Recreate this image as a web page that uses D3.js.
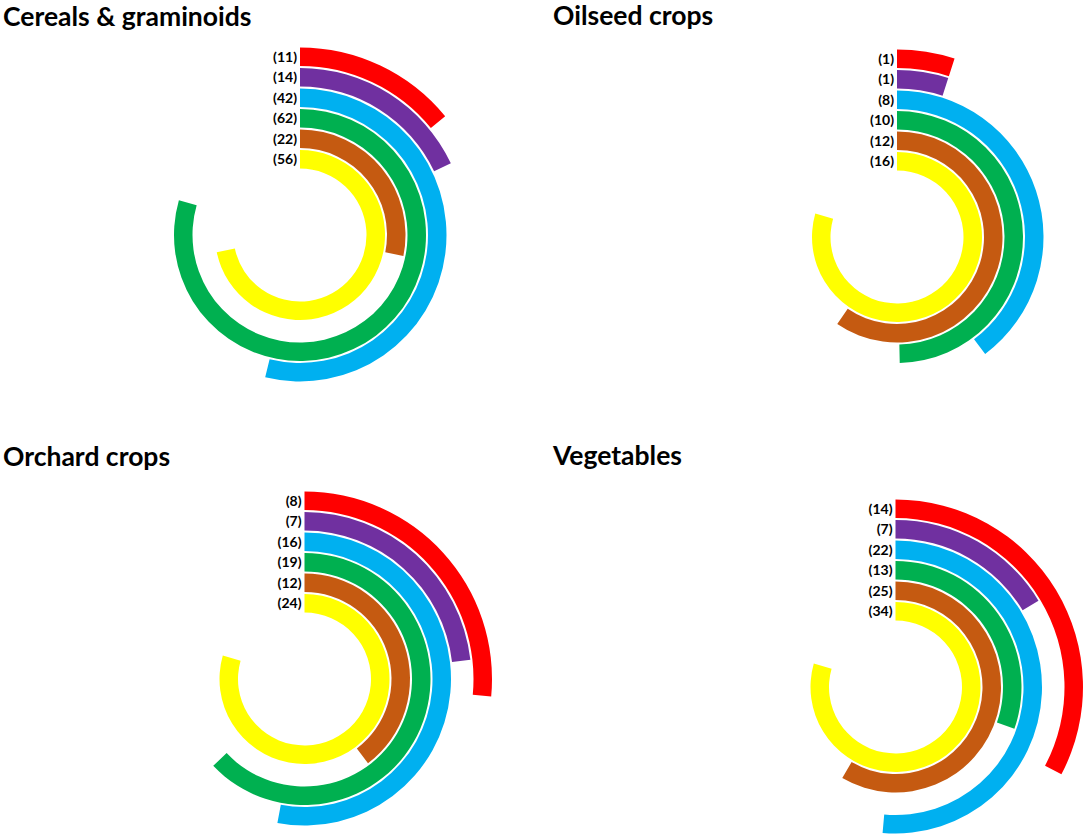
<!DOCTYPE html>
<html>
<head>
<meta charset="utf-8">
<script src="https://cdn.jsdelivr.net/npm/d3@7"></script>
<style>
  body { margin: 0; background: #fff; }
  .title { font-family: Lato, "Open Sans", sans-serif; font-weight: bold; font-size: 26.5px; fill: #000; }
  .count { font-family: Lato, "Open Sans", sans-serif; font-weight: bold; font-size: 14px; fill: #000; }
</style>
</head>
<body>
<script>
// Panel titles
var groups = ["Cereals & graminoids", "Oilseed crops", "Orchard crops", "Vegetables"];

// Ring colours, outer ring first
var ringColors = ["#FF0000", "#7030A0", "#00B0F0", "#00B050", "#C55A11", "#FFFF00"];

// Counts per ring (outer ring first), one array per panel
var cerealsCounts = [11, 14, 42, 62, 22, 56];
var oilseedCounts = [1, 1, 8, 10, 12, 16];
var orchardCounts = [8, 7, 16, 19, 12, 24];
var vegetableCounts = [14, 7, 22, 13, 25, 34];

var panelCounts = [cerealsCounts, oilseedCounts, orchardCounts, vegetableCounts];

// Layout
var width = 1084, height = 835;
var titlePos = [[3, 26], [553, 25], [3, 466], [553, 465]];
var centers = [[300, 235], [897, 237], [304.5, 679], [895.5, 687]];
var outerR = 187.5, step = 20.5, band = 18.5;
var maxAngle = 286 * Math.PI / 180;

var svg = d3.select("body").append("svg")
    .attr("width", width)
    .attr("height", height);

groups.forEach(function(name, p) {
    var counts = panelCounts[p];

    // Title
    svg.append("text")
        .attr("class", "title")
        .attr("x", titlePos[p][0])
        .attr("y", titlePos[p][1])
        .text(name);

    // Largest count in a panel gets the longest arc
    var angle = d3.scaleLinear()
        .domain([0, d3.max(counts)])
        .range([0, maxAngle]);

    var ring = d3.scaleLinear()
        .domain([0, 1])
        .range([outerR, outerR - step]);

    var arc = d3.arc()
        .innerRadius((d, i) => ring(i) - band)
        .outerRadius((d, i) => ring(i))
        .startAngle(0)
        .endAngle(d => angle(d));

    var g = svg.append("g")
        .attr("transform", "translate(" + centers[p][0] + "," + centers[p][1] + ")");

    g.selectAll("path")
        .data(counts)
        .enter().append("path")
        .attr("d", (d, i) => arc(d, i))
        .attr("fill", (d, i) => ringColors[i]);

    // Count labels to the left of each ring start
    g.selectAll(".count")
        .data(counts)
        .enter().append("text")
        .attr("class", "count")
        .attr("x", -3)
        .attr("y", (d, i) => -(ring(i) - band / 2))
        .attr("dy", "0.35em")
        .style("text-anchor", "end")
        .text(d => "(" + d + ")");
});
</script>
</body>
</html>
